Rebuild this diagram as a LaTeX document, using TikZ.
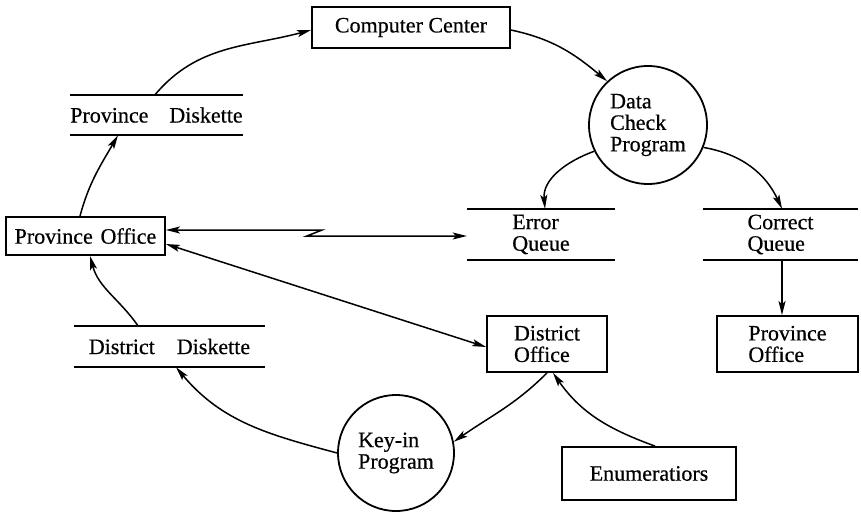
\documentclass[tikz,border=0pt]{standalone}
\usepackage{fontspec}
\setmainfont[FakeBold=0.5]{Liberation Serif}
\usetikzlibrary{arrows.meta,calc}
\begin{document}
\begin{tikzpicture}[x=1pt,y=1pt,
  font=\fontsize{22}{21.5}\selectfont,
  box/.style={draw, line width=1.8pt, inner sep=0pt, align=left},
  proc/.style={draw, circle, line width=1.8pt, inner sep=0pt, align=left},
  store/.style={inner sep=0pt, align=left},
  storeline/.style={line width=1.8pt},
  tip/.tip={Stealth[length=14pt,width=7pt,inset=3pt]},
  flow/.style={line width=1.5pt, -tip},
  flowboth/.style={line width=1.5pt, tip-tip}
]
\useasboundingbox (0,0) rectangle (861,512);

% processes and external entities
\node[box, minimum width=198pt, minimum height=41pt] (cc) at (411,484.5) {Computer Center};
\node[proc, minimum size=118pt] (dcp) at (648,387) {Data\\Check\\Program};
\node[box, minimum width=159pt, minimum height=38pt] (po) at (85.5,276) {Province\hspace{0.35em}Office};
\node[box, minimum width=120pt, minimum height=56pt] (do) at (547,168) {District\\Office};
\node[box, minimum width=141pt, minimum height=56pt] (po2) at (787.5,168) {Province\\Office};
\node[box, minimum width=174pt, minimum height=53pt] (en) at (649,38.5) {Enumeratiors};
\node[proc, minimum size=116pt] (ki) at (396,59) {Key-in\\Program};

% data stores
\node[store, minimum width=171pt, minimum height=40pt] (pd) at (156.5,397) {Province\hspace{0.95em}Diskette};
\node[store, minimum width=191pt, minimum height=41pt] (dd) at (169.5,165.5) {District\hspace{1em}Diskette};
\node[store, minimum width=148pt, minimum height=51pt] (eq) at (541,277.5) {Error\\Queue};
\node[store, minimum width=155pt, minimum height=51pt] (cq) at (780.5,277.5) {Correct\\Queue};
\foreach \s in {pd,dd,eq,cq}{
  \draw[storeline] (\s.north west) -- (\s.north east);
  \draw[storeline] (\s.south west) -- (\s.south east);
}

% flows
\draw[flow] ([xshift=-1.5pt]pd.north) to[out=50,in=195] ([yshift=-2.5pt]cc.west);
\draw[flow] ([yshift=-2.5pt]cc.east) to[out=-12,in=140] (dcp.133);
\draw[flow] (dcp.206) to[out=200,in=95] ([xshift=4pt]eq.north);
\draw[flow] (dcp.338) to[out=-10,in=115] ([xshift=1.5pt]cq.north);
\draw[flow] ([xshift=1.5pt]cq.south) -- ([xshift=1.5pt]cq.south |- po2.north);

% telecommunication link
\coordinate (z1) at (322,282);
\coordinate (z2) at (307,276);
\draw[flowboth] (po.east |- z1) -- (z1) -- (z2) -- (eq.west |- z2);

\draw[flowboth] ([yshift=-8pt]po.east) -- ([yshift=-3pt]do.west);
\draw[flow] ([xshift=-31.5pt]dd.north) to[out=125,in=-75] ([xshift=4.5pt]po.south);
\draw[flow] ([xshift=-5.5pt]po.north) to[out=75,in=240] ([xshift=-38.5pt]pd.south);
\draw[flow] (ki.west) to[out=165,in=-50] ([xshift=6.5pt]dd.south);
\draw[flow] (do.south) to[out=225,in=35] (ki.11);
\draw[flow] ([xshift=6pt]en.north) to[out=160,in=-55] ([xshift=6pt]do.south);
\end{tikzpicture}
\end{document}
